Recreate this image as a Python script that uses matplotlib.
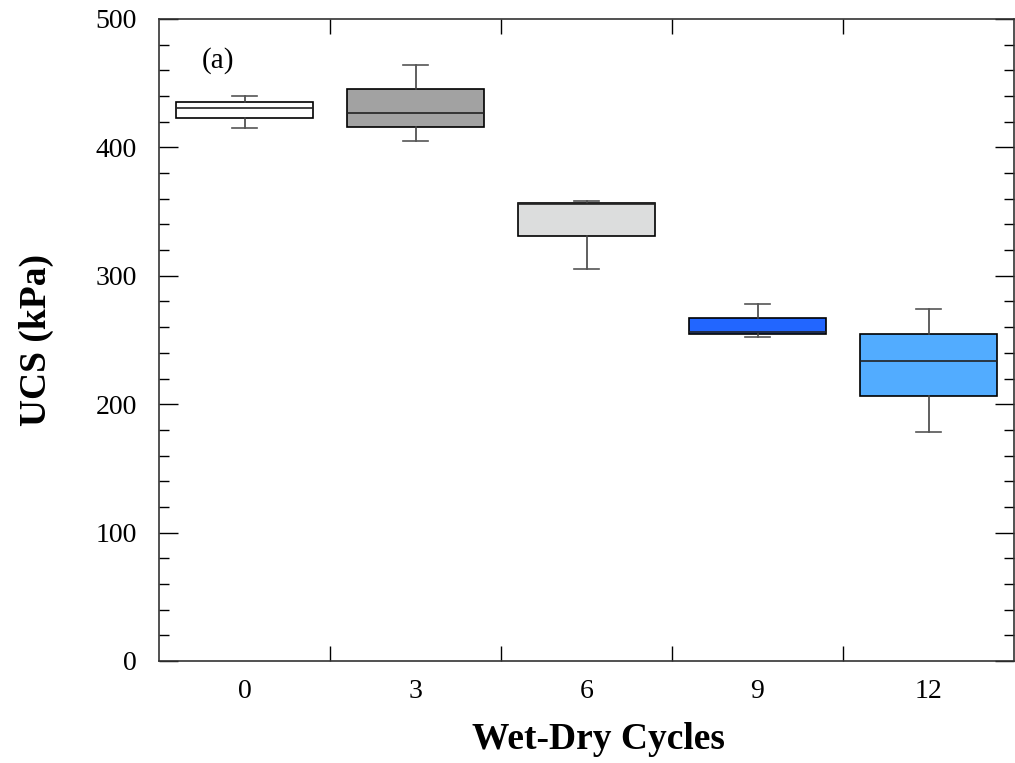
import matplotlib
matplotlib.use("Agg")
import matplotlib.pyplot as plt
import numpy as np

categories = ["0", "3", "6", "9", "12"]
whisker_low = [415, 405, 305.5, 252, 178]
q1 = [423, 416, 331, 254.7, 206]
median = [431, 427, 356, 256, 234]
q3 = [435, 445.8, 357, 267, 254.5]
whisker_high = [440, 464.5, 358.5, 278, 274.5]
colors = ["#ffffff", "#a2a2a2", "#dcdddd", "#2266ff", "#52acff"]

plt.rcParams['font.family'] = ['Liberation Serif', 'DejaVu Serif']

fig = plt.figure(figsize=(10.15, 7.63), dpi=100)
ax = fig.add_axes([159/1015, 1-661/763, (1014-159)/1015, (661-19)/763])

stats = []
for i in range(len(categories)):
    stats.append(dict(med=median[i], q1=q1[i], q3=q3[i],
                      whislo=whisker_low[i], whishi=whisker_high[i],
                      fliers=[], label=categories[i]))
pos = np.arange(len(categories))
bp = ax.bxp(stats, positions=pos, widths=0.8, patch_artist=True,
            showfliers=False, capwidths=0.15,
            boxprops=dict(edgecolor='black', linewidth=1.2),
            medianprops=dict(color='#222222', linewidth=1.2),
            whiskerprops=dict(color='#444444', linewidth=1.2),
            capprops=dict(color='#555555', linewidth=1.2))
for patch, c in zip(bp['boxes'], colors):
    patch.set_facecolor(c)

ax.set_xlim(-0.5, len(categories) - 0.5)
ax.set_ylim(0, 500)
ax.set_xticks(pos)
ax.set_xticklabels(categories)
ax.set_xticks(np.arange(0.5, len(categories) - 0.5, 1.0), minor=True)
ax.set_yticks(np.arange(0, 501, 100))
ax.set_yticks(np.arange(0, 501, 20), minor=True)
ax.tick_params(axis='x', which='major', length=0, labelsize=20, pad=13)
ax.tick_params(axis='x', which='minor', direction='in', length=11, top=True, bottom=True, width=1)
ax.tick_params(axis='y', which='major', direction='in', length=14, left=True, right=True, labelsize=20, pad=16, width=1)
ax.tick_params(axis='y', which='minor', direction='in', length=7, left=True, right=True, width=1)
for s in ax.spines.values():
    s.set_color('#333333')
    s.set_linewidth(1.2)

ax.set_xlabel("Wet-Dry Cycles", fontsize=27, fontweight='bold', labelpad=13)
ax.xaxis.label.set_x(0.514)
ax.set_ylabel("UCS (kPa)", fontsize=27, fontweight='bold', labelpad=30)
ax.text(218/1015, 1-61/763, "(a)", transform=fig.transFigure, fontsize=21, ha='center', va='center')

fig.savefig("out.png", dpi=100)
